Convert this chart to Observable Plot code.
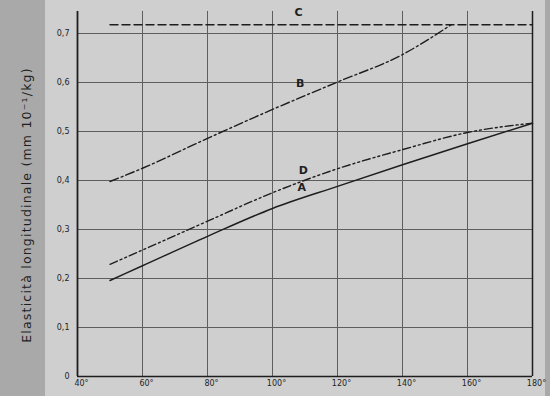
<!DOCTYPE html>
<html>
<head>
<meta charset="utf-8">
<script src="https://cdn.jsdelivr.net/npm/d3@7"></script>
<script src="https://cdn.jsdelivr.net/npm/@observablehq/plot@0.6"></script>
<style>
  html, body { margin: 0; padding: 0; background: #a9a9a9; }
  #chart svg { display: block; }
</style>
</head>
<body>
<div id="chart"></div>
<script>
// Temperature (°) and longitudinal elasticity values per curve
const tempA = [50, 60, 80, 100, 120, 140, 160, 180];
const elasA = [0.196, 0.226, 0.286, 0.343, 0.388, 0.432, 0.475, 0.517];
const tempD = [50, 60, 80, 100, 120, 140, 160, 180];
const elasD = [0.229, 0.258, 0.317, 0.375, 0.424, 0.463, 0.498, 0.517];
const tempB = [50, 60, 80, 100, 120, 140, 155];
const elasB = [0.398, 0.425, 0.486, 0.545, 0.601, 0.657, 0.718];
const tempC = [50, 180];
const elasC = [0.718, 0.718];

const curveNames = ["A", "B", "C", "D"];
const labelTemp = [109, 108.5, 108, 109.5];
const labelElas = [0.386, 0.598, 0.743, 0.42];

const xTicks = [40, 60, 80, 100, 120, 140, 160, 180];
const xTickLabels = ["40°", "60°", "80°", "100°", "120°", "140°", "160°", "180°"];
const yTicks = [0, 0.1, 0.2, 0.3, 0.4, 0.5, 0.6, 0.7];
const yTickLabels = ["0", "0,1", "0,2", "0,3", "0,4", "0,5", "0,6", "0,7"];

const toRows = (t, v) => t.map((x, i) => ({t: x, e: v[i]}));
const A = toRows(tempA, elasA);
const B = toRows(tempB, elasB);
const C = toRows(tempC, elasC);
const D = toRows(tempD, elasD);
const labels = curveNames.map((n, i) => ({n, t: labelTemp[i], e: labelElas[i]}));

const ink = "#1e1e1e";
const gridInk = "#5e5e5e";
const xFmt = (d) => xTickLabels[xTicks.indexOf(d)];
const yFmt = (d) => yTickLabels[yTicks.findIndex(v => Math.abs(v - d) < 1e-9)];

const chart = Plot.plot({
  width: 550,
  height: 396,
  marginLeft: 77,
  marginRight: 18,
  marginTop: 33,
  marginBottom: 20,
  style: {
    fontFamily: "DejaVu Sans",
    color: ink,
    background: "linear-gradient(to right, #a9a9a9 0px, #a9a9a9 45px, #cfcfcf 45px, #cfcfcf 545px, #a9a9a9 545px)",
    overflow: "visible"
  },
  x: {domain: [40, 180]},
  y: {domain: [0, 0.7]},
  marks: [
    Plot.ruleY(yTicks.slice(1), {stroke: gridInk, strokeWidth: 1}),
    Plot.ruleX(xTicks.slice(1, -1), {y1: 0, y2: 0.745, stroke: gridInk, strokeWidth: 1}),
    Plot.ruleX([180], {y1: 0, y2: 0.745, stroke: ink, strokeWidth: 1.5}),
    Plot.ruleX([40], {y1: 0, y2: 0.745, stroke: ink, strokeWidth: 1.8}),
    Plot.ruleY([0], {stroke: ink, strokeWidth: 1.5}),
    Plot.line(C, {x: "t", y: "e", stroke: ink, strokeWidth: 1.4, strokeDasharray: "8,4"}),
    Plot.line(B, {x: "t", y: "e", stroke: ink, strokeWidth: 1.4, strokeDasharray: "9,3,2,3", curve: "monotone-x"}),
    Plot.line(D, {x: "t", y: "e", stroke: ink, strokeWidth: 1.4, strokeDasharray: "8,3,2,3,2,3", curve: "monotone-x"}),
    Plot.line(A, {x: "t", y: "e", stroke: ink, strokeWidth: 1.5, curve: "monotone-x"}),
    Plot.text(labels, {x: "t", y: "e", text: "n", fill: ink, fontSize: 11, fontWeight: "bold"}),
    Plot.axisX({ticks: xTicks, tickFormat: xFmt, tickSize: 0, tickPadding: 4, fontSize: 8, dx: 4, label: null}),
    Plot.axisY({ticks: yTicks, tickFormat: yFmt, tickSize: 0, tickPadding: 8, fontSize: 8,
      label: "Elasticità longitudinale (mm 10⁻¹/kg)", labelAnchor: "center", labelArrow: "none", labelOffset: 55})
  ]
});
chart.querySelectorAll("[aria-label='y-axis label'] text").forEach(t => {
  t.style.fontSize = "12.5px"; t.style.letterSpacing = "1.2px";
});
document.getElementById("chart").appendChild(chart);
</script>
</body>
</html>
